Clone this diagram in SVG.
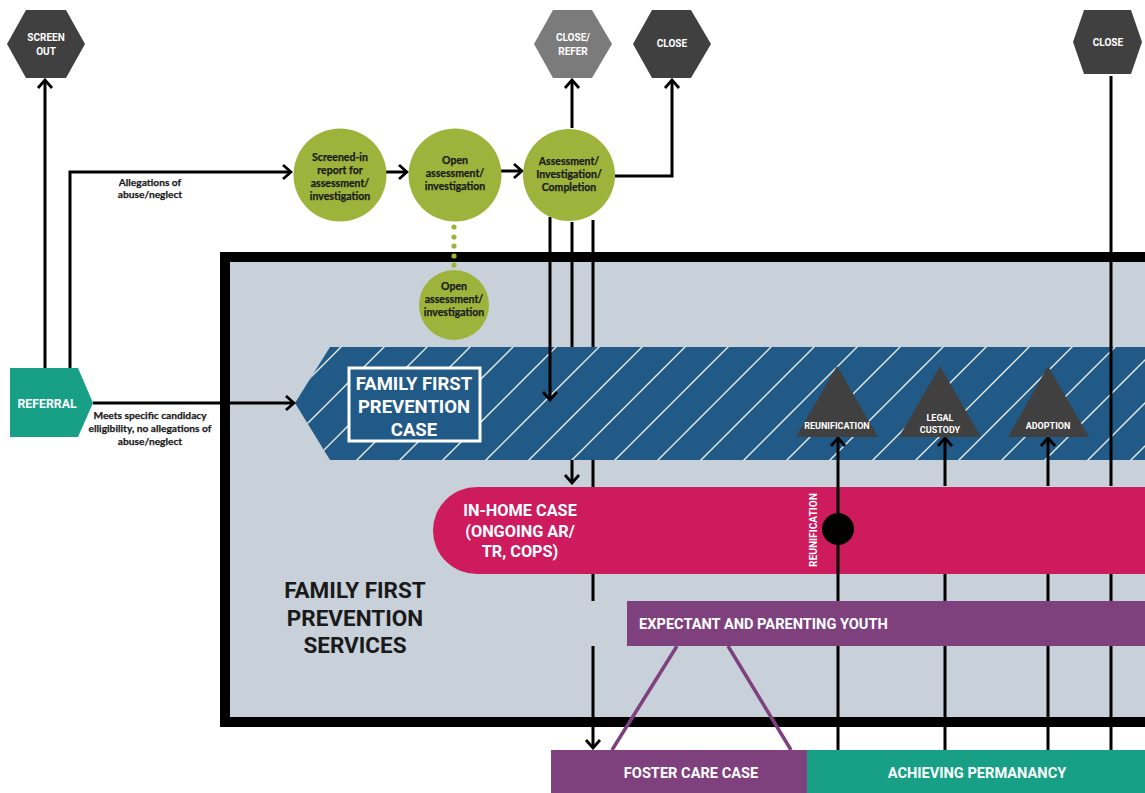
<svg xmlns="http://www.w3.org/2000/svg" width="1145" height="793" viewBox="0 0 1145 793">
<style>
.hex{fill:#404040}
.hexl{fill:#7b7b7b}
.ht{font-family:Roboto,"Liberation Sans",sans-serif;font-weight:700;font-size:10px;fill:#fff;text-anchor:middle}
.gc{fill:#9db33b}
.gt{font-family:Lato,"Liberation Sans",sans-serif;font-weight:700;font-size:10.5px;fill:#1a1a1a;stroke:#1a1a1a;stroke-width:0.25;text-anchor:middle}
.lbl{font-family:Lato,"Liberation Sans",sans-serif;font-weight:700;font-size:10.2px;fill:#1a1a1a;stroke:#1a1a1a;stroke-width:0.25;text-anchor:middle}
.cap{font-family:Roboto,"Liberation Sans",sans-serif;font-weight:700;fill:#fff;text-anchor:middle}
.dark{fill:#1a1a1a}
.tri{fill:#404040}
.tt{font-family:Roboto,"Liberation Sans",sans-serif;font-weight:700;font-size:9px;fill:#fff;text-anchor:middle}
.ln{fill:none;stroke:#000;stroke-width:3}
.ar{marker-end:url(#arr)}
.pl{stroke:#7f417d;stroke-width:3.5;fill:none}
</style>
<defs>
<marker id="arr" viewBox="0 0 12 18" refX="10" refY="9" markerWidth="12" markerHeight="18" markerUnits="userSpaceOnUse" orient="auto">
<path d="M2,2 L10,9 L2,16" fill="none" stroke="#000" stroke-width="2.8"/>
</marker>
<pattern id="stripes" patternUnits="userSpaceOnUse" width="43" height="43">
<path d="M0,43 L43,0 M-5,5 L5,-5 M38,48 L48,38" stroke="#e8eef4" stroke-width="1.4"/>
</pattern>
</defs>
<rect width="1145" height="793" fill="#fff"/>

<g id="frame">
<rect x="225" y="257" width="1000" height="465" fill="#c8d0da" stroke="#000" stroke-width="10"/>
</g>

<g id="ffp-case">
<polygon points="295,403 330,347 1145,347 1145,460 330,460" fill="#215a86"/>
<polygon points="295,403 330,347 1145,347 1145,460 330,460" fill="url(#stripes)"/>
<rect x="349" y="368" width="131" height="73" fill="#215a86" stroke="#fff" stroke-width="3"/>
<text class="cap" font-size="18.5" x="414" y="390">FAMILY FIRST</text>
<text class="cap" font-size="18.5" x="414" y="413">PREVENTION</text>
<text class="cap" font-size="18.5" x="414" y="436">CASE</text>
</g>

<g id="connectors-under">
<path class="ln" d="M572,222 V347"/>
<path class="ln" d="M593,220 V347"/>
<path class="ln" d="M1111,486 V76"/>
</g>

<g id="in-home">
<path d="M477,487 H1145 V574 H477 A44,43.5 0 0 1 477,487 Z" fill="#cd1b5e"/>
<text class="cap" font-size="16.3" x="520" y="516">IN-HOME CASE</text>
<text class="cap" font-size="16.3" x="520" y="537">(ONGOING AR/</text>
<text class="cap" font-size="16.3" x="520" y="557">TR, COPS)</text>
</g>

<g id="ffp-services">
<text class="cap dark" font-size="22.5" x="355" y="598">FAMILY FIRST</text>
<text class="cap dark" font-size="22.5" x="355" y="626">PREVENTION</text>
<text class="cap dark" font-size="22.5" x="355" y="653">SERVICES</text>
</g>

<g id="connectors">
<path class="ln ar" d="M45,368 V80"/>
<path class="ln ar" d="M70,368 V172 H291"/>
<path class="ln ar" d="M386,172 H407"/>
<path class="ln ar" d="M501,171 H522"/>
<path class="ln ar" d="M93,403 H294"/>
<path class="ln ar" d="M572,128 V80"/>
<path class="ln ar" d="M615,176 H672 V80" stroke-width="4"/>
<path class="ln ar" d="M550,217 V400"/>
<path class="ln ar" d="M572,460 V483"/>
<path class="ln" d="M593,460 V487 M593,574 V601"/>
<path class="ln ar" d="M593,646 V748"/>
<path class="ln" d="M838,750 V646"/>
<path class="ln ar" d="M838,601 V438"/>
<path class="ln" d="M945,750 V646 M945,601 V574"/>
<path class="ln ar" d="M945,486 V438"/>
<path class="ln" d="M1048,750 V646 M1048,601 V574"/>
<path class="ln ar" d="M1048,486 V438"/>
<path class="ln" d="M1111,750 V646 M1111,601 V574"/>
<g fill="#9db33b">
<circle cx="454" cy="227" r="2.6"/><circle cx="454" cy="237" r="2.6"/><circle cx="454" cy="246" r="2.6"/><circle cx="454" cy="256" r="2.6"/><circle cx="454" cy="265" r="2.6"/>
</g>
<text class="lbl" x="150" y="186">Allegations of</text>
<text class="lbl" x="150" y="198">abuse/neglect</text>
<text class="lbl" x="150" y="419">Meets specific candidacy</text>
<text class="lbl" x="150" y="432">elligibility, no allegations of</text>
<text class="lbl" x="150" y="445">abuse/neglect</text>
</g>

<g id="screen-out">
<polygon class="hex" points="7,44 26,10 66,10 85,44 66,78 26,78"/>
<text class="ht" x="46" y="41">SCREEN</text>
<text class="ht" x="46" y="55">OUT</text>
</g>
<g id="close-refer">
<polygon class="hexl" points="534,44 553,10 592,10 612,44 592,78 553,78"/>
<text class="ht" x="573" y="41">CLOSE/</text>
<text class="ht" x="573" y="55">REFER</text>
</g>
<g id="close-1">
<polygon class="hex" points="633,44 652,10 691,10 711,44 691,78 652,78"/>
<text class="ht" x="672" y="47" font-size="10.5">CLOSE</text>
</g>
<g id="close-2">
<polygon class="hex" points="1073,42 1084,10 1131,10 1142,42 1131,74 1084,74"/>
<text class="ht" x="1108" y="46" font-size="10.5">CLOSE</text>
</g>

<g id="referral">
<polygon points="10,368 78,368 93,403 78,437 10,437" fill="#17a085"/>
<text class="cap" font-size="12.3" x="47" y="407.5">REFERRAL</text>
</g>

<g id="screened-in">
<circle class="gc" cx="340" cy="175" r="46.5"/>
<text class="gt" x="340" y="161">Screened-in</text>
<text class="gt" x="340" y="174">report for</text>
<text class="gt" x="340" y="187">assessment/</text>
<text class="gt" x="340" y="200">investigation</text>
</g>
<g id="open-1">
<circle class="gc" cx="455" cy="175" r="46.5"/>
<text class="gt" x="455" y="164">Open</text>
<text class="gt" x="455" y="177">assessment/</text>
<text class="gt" x="455" y="190">investigation</text>
</g>
<g id="completion">
<circle class="gc" cx="569" cy="175" r="46"/>
<text class="gt" x="569" y="165">Assessment/</text>
<text class="gt" x="569" y="178">Investigation/</text>
<text class="gt" x="569" y="191">Completion</text>
</g>
<g id="open-2">
<circle class="gc" cx="454" cy="305" r="35"/>
<text class="gt" x="454" y="290">Open</text>
<text class="gt" x="454" y="303">assessment/</text>
<text class="gt" x="454" y="316">investigation</text>
</g>

<g id="reunification">
<polygon class="tri" points="837,366 878,437 796,437"/>
<text class="tt" x="837" y="429" font-size="8.4">REUNIFICATION</text>
</g>
<g id="legal-custody">
<polygon class="tri" points="940,366 981,437 899,437"/>
<text class="tt" x="940" y="421">LEGAL</text>
<text class="tt" x="940" y="433">CUSTODY</text>
</g>
<g id="adoption">
<polygon class="tri" points="1048,366 1089,437 1008,437"/>
<text class="tt" x="1048" y="429">ADOPTION</text>
</g>

<g id="reunification-point">
<circle cx="838" cy="529" r="16" fill="#000"/>
<text class="cap" font-size="10.2" transform="translate(817,530) rotate(-90)">REUNIFICATION</text>
</g>

<g id="expectant">
<rect x="627" y="601" width="518" height="45" fill="#7f417d"/>
<text class="cap" font-size="14.6" style="text-anchor:start" x="639" y="628.5">EXPECTANT AND PARENTING YOUTH</text>
<path class="pl" d="M677,646 L612,750 M728,646 L791,750"/>
</g>

<g id="foster-care">
<rect x="551" y="750" width="257" height="43" fill="#7f417d"/>
<text class="cap" font-size="14.6" x="691" y="777.5">FOSTER CARE CASE</text>
</g>
<g id="permanancy">
<rect x="807" y="750" width="338" height="43" fill="#17a085"/>
<text class="cap" font-size="14.6" x="977" y="777.5">ACHIEVING PERMANANCY</text>
</g>
</svg>
